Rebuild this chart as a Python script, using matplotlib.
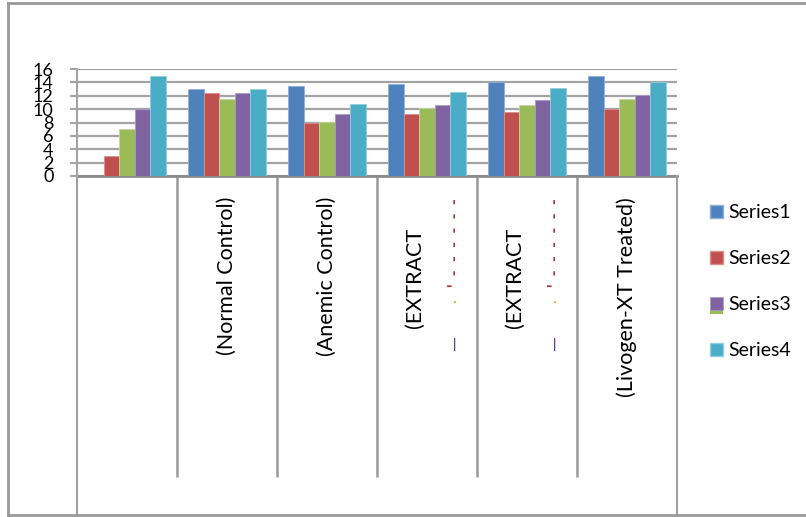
import numpy as np
import matplotlib
matplotlib.use("Agg")
import matplotlib.pyplot as plt
from matplotlib.lines import Line2D
from matplotlib.patches import Rectangle, Patch
from matplotlib.legend_handler import HandlerBase

plt.rcParams['font.family'] = ['Lato', 'DejaVu Sans']

# ---- data ----
categories = ["", "(Normal Control)", "(Anemic Control)", "(EXTRACT", "(EXTRACT", "(Livogen-XT Treated)"]
series_names = ["Series1", "Series2", "Series3 (green)", "Series3", "Series4"]
series1 = [0.0, 13.0, 13.5, 13.7, 14.0, 15.0]
series2 = [3.0, 12.4, 8.0, 9.2, 9.5, 10.0]
series_green = [7.0, 11.5, 8.1, 10.1, 10.6, 11.5]
series3 = [10.0, 12.4, 9.2, 10.6, 11.3, 12.1]
series4 = [15.0, 13.0, 10.8, 12.6, 13.2, 14.0]
y_ticks = [0, 2, 4, 6, 8, 10, 12, 14, 16]

colors = ["#4F81BD", "#C0504D", "#9BBB59", "#8064A2", "#4BACC6"]
edges = ["#8FB0DA", "#DB8E8C", "#C3D79F", "#AC98C6", "#8FCFE0"]
values = [series1, series2, series_green, series3, series4]

W, H = 806, 517
def fx(px): return px / W
def fy(py): return 1 - py / H

fig = plt.figure(figsize=(W / 100, H / 100), dpi=100)
ax = fig.add_axes([fx(77), fy(176), fx(677) - fx(77), (176 - 69) / H])

grid_c = "#a3a3a3"
x = np.arange(len(categories))
bw = 0.155
for i, (vals, c, ec) in enumerate(zip(values, colors, edges)):
    ax.bar(x + (i - 2) * bw, vals, width=bw, color=c, edgecolor=ec, linewidth=0.6, zorder=3)

ax.set_xlim(-0.5, len(categories) - 0.5)
ax.set_ylim(0, 16)
ax.set_yticks(y_ticks)
ax.set_yticklabels([str(v) for v in y_ticks], fontsize=13)
ax.yaxis.grid(True, color=grid_c, linewidth=1.6)
ax.set_axisbelow(True)
ax.tick_params(axis='y', direction='out', length=5, width=1.5, color=grid_c, pad=12)

# category labels: normal ones as tick labels, the two-line "(EXTRACT" ones offset
tick_labels = [c if c != "(EXTRACT" else "" for c in categories]
ax.set_xticks(x)
ax.set_xticklabels(tick_labels, rotation=90, fontsize=15.5, va='top', ha='center')
ax.tick_params(axis='x', which='major', length=0, pad=15)
xt = ax.get_xaxis_transform()
for i, c in enumerate(categories):
    if c == "(EXTRACT":
        ax.annotate(c, xy=(i, 0), xycoords=xt, xytext=(-8.5, -37), textcoords='offset points',
                    rotation=90, fontsize=15.5, va='top', ha='center', annotation_clip=False)
        # broken second line of the label (rendering fragments in the original)
        ax.annotate("'  -  -  -  -  -  -", xy=(i, 0), xycoords=xt, xytext=(20, -15.5),
                    textcoords='offset points', rotation=90, fontsize=12, color="#A83232",
                    fontweight='bold', va='top', ha='center', annotation_clip=False)
        ax.annotate("·", xy=(i, 0), xycoords=xt, xytext=(20, -90),
                    textcoords='offset points', rotation=90, fontsize=11, color="#F0A030",
                    va='center', ha='center', annotation_clip=False)
        ax.annotate("|", xy=(i, 0), xycoords=xt, xytext=(20, -121),
                    textcoords='offset points', rotation=0, fontsize=9, color="#6A3A90",
                    fontweight='bold', va='center', ha='center', annotation_clip=False)
ax.set_xticks(np.arange(0.5, len(categories) - 1, 1.0), minor=True)
ax.tick_params(axis='x', which='minor', direction='out', length=216.5, width=1.8, color="#9a9a9a")

for s in ['top', 'right']:
    ax.spines[s].set_visible(False)
ax.spines['left'].set_color(grid_c)
ax.spines['left'].set_linewidth(1.5)
ax.spines['bottom'].set_color("#8c8c8c")
ax.spines['bottom'].set_linewidth(2)

# frame lines (plot area extension and outer chart border)
line_c = "#a0a0a0"
fig.add_artist(Line2D([fx(77), fx(77)], [fy(176), fy(515)], color=line_c, lw=1.5))
fig.add_artist(Line2D([fx(677), fx(677)], [fy(176), fy(515)], color=line_c, lw=1.5))
fig.add_artist(Line2D([fx(8), 1.0], [fy(515), fy(515)], color="#999999", lw=2))
fig.add_artist(Line2D([fx(8), fx(8)], [fy(3), fy(515)], color="#999999", lw=2))
fig.add_artist(Line2D([fx(8), 1.0], [fy(3), fy(3)], color="#999999", lw=2))


class StackedHandler(HandlerBase):
    def create_artists(self, legend, orig_handle, xdescent, ydescent, width, height, fontsize, trans):
        top = Rectangle((-xdescent, -ydescent), width, height, facecolor=colors[3],
                        edgecolor=edges[3], lw=0.5, transform=trans)
        strip = Rectangle((-xdescent, -ydescent - 0.3 * height), width, 0.3 * height,
                          facecolor=colors[2], edgecolor='none', transform=trans)
        return [strip, top]


class Stacked:
    pass


handles = [Patch(facecolor=colors[0], edgecolor=edges[0]),
           Patch(facecolor=colors[1], edgecolor=edges[1]),
           Stacked(),
           Patch(facecolor=colors[4], edgecolor=edges[4])]
labels = [series_names[0], series_names[1], series_names[3], series_names[4]]
fig.legend(handles, labels, loc='upper left', bbox_to_anchor=(fx(710), fy(204)),
           frameon=False, fontsize=14, handlelength=0.65, handleheight=0.65,
           handletextpad=0.3, labelspacing=1.5, borderpad=0, borderaxespad=0,
           handler_map={Stacked: StackedHandler()})

fig.savefig("out.png", dpi=100)
